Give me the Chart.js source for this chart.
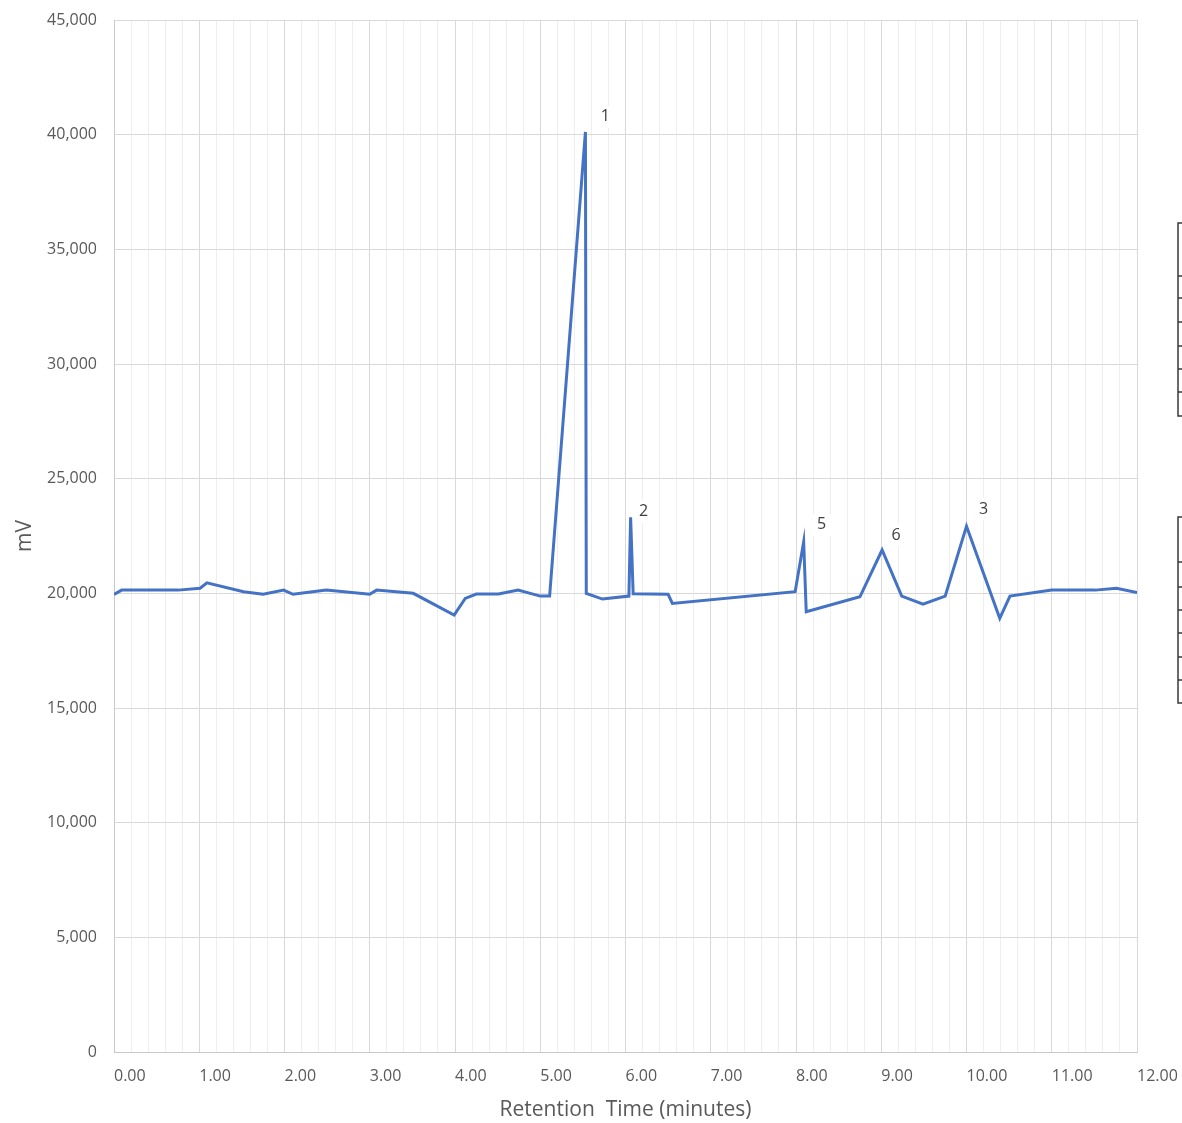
<!DOCTYPE html>
<html>
<head>
<meta charset="utf-8">
<script src="https://cdn.jsdelivr.net/npm/chart.js@4.4.1/dist/chart.umd.min.js"></script>
<style>
  html, body { margin: 0; padding: 0; background: #fff; }
  #wrap { width: 1182px; height: 1123px; position: relative; }
</style>
</head>
<body>
<div id="wrap"><canvas id="chromChart"></canvas></div>
<script>
// retention time (minutes) and detector signal (mV)
const retentionTime = [0, 0.09, 0.75, 1.01, 1.09, 1.52, 1.75, 1.99, 2.10, 2.49, 3.00, 3.08, 3.51, 3.99,
  4.12, 4.25, 4.51, 4.74, 5.00, 5.11, 5.53, 5.54, 5.73, 6.04, 6.06, 6.09, 6.50, 6.55, 7.99, 8.09,
  8.12, 8.75, 9.01, 9.24, 9.49, 9.75, 10.00, 10.39, 10.51, 11.00, 11.51, 11.76, 12.00];
const signal = [19950, 20140, 20140, 20220, 20460, 20070, 19960, 20140, 19960, 20140, 19960, 20140, 20000, 19050,
  19780, 19970, 19970, 20140, 19880, 19880, 40120, 20000, 19750, 19880, 23320, 19980, 19960, 19560, 20070, 22250,
  19200, 19850, 21890, 19880, 19530, 19880, 22930, 18910, 19880, 20140, 20140, 20220, 20030];

// numbered peaks
const peakNames = ['1', '2', '5', '6', '3'];
const peakTimes = [5.53, 6.06, 8.09, 9.01, 10.00];

const xMin = 0, xMax = 12, xMinorStep = 0.2;
const yMin = 0, yMax = 45000, yStep = 5000;

const fontFamily = "'Open Sans', 'Noto Sans', sans-serif";
const tickFont = { family: fontFamily, size: 16 };
const titleFont = { family: fontFamily, size: 21 };
const tickColor = '#595959';

const peakLabelPlugin = {
  id: 'peakLabels',
  afterDatasetsDraw(chart, args, opts) {
    const ctx = chart.ctx;
    const meta = chart.getDatasetMeta(0);
    ctx.save();
    ctx.font = '16px ' + fontFamily;
    ctx.textAlign = 'center';
    ctx.textBaseline = 'middle';
    peakNames.forEach(function (name, i) {
      const idx = retentionTime.indexOf(peakTimes[i]);
      if (idx < 0) return;
      const pt = meta.data[idx];
      const off = opts.offsets[i];
      const x = pt.x + off[0], y = pt.y + off[1];
      ctx.fillStyle = '#ffffff';
      ctx.fillRect(x - 10, y - 11, 20, 22);
      ctx.fillStyle = '#404040';
      ctx.fillText(name, x, y);
    });
    ctx.restore();
  }
};

// the two cut-off boxes at the right edge of the picture
const edgeBoxPlugin = {
  id: 'edgeBoxes',
  afterDraw(chart) {
    const ctx = chart.ctx;
    const x0 = chart.width - 4;
    const boxes = [[223, 276, 298, 322, 346, 369, 392, 416], [517, 562, 587, 610, 633, 657, 680, 703]];
    ctx.save();
    ctx.strokeStyle = '#3a3a3a';
    ctx.lineWidth = 1.5;
    boxes.forEach(function (b) {
      ctx.beginPath();
      ctx.moveTo(chart.width, b[0]);
      ctx.lineTo(x0, b[0]);
      ctx.lineTo(x0, b[b.length - 1]);
      ctx.lineTo(chart.width, b[b.length - 1]);
      for (let k = 1; k < b.length - 1; k++) {
        ctx.moveTo(x0, b[k]);
        ctx.lineTo(chart.width, b[k]);
      }
      ctx.stroke();
    });
    ctx.restore();
  }
};

function isMajor(v) {
  return Math.abs(v - Math.round(v)) < 1e-6;
}

document.addEventListener('DOMContentLoaded', function () {
  const canvas = document.getElementById('chromChart');

  new Chart(canvas.getContext('2d'), {
    type: 'line',
    data: {
      datasets: [{
        label: 'Signal',
        data: retentionTime.map((t, i) => ({ x: t, y: signal[i] })),
        borderColor: '#4472C4',
        borderWidth: 3,
        pointRadius: 0,
        tension: 0,
        fill: false
      }]
    },
    options: {
      responsive: true,
      maintainAspectRatio: false,
      animation: false,
      layout: { padding: { top: 20, right: 0, bottom: 0, left: 0 } },
      plugins: {
        legend: { display: false },
        tooltip: { enabled: false },
        peakLabels: { offsets: [[20, -15], [13, -6], [18, -17], [14, -15], [17, -17]] }
      },
      scales: {
        x: {
          type: 'linear',
          min: xMin,
          max: xMax,
          afterFit: function (scale) {
            scale.height = 71;
            scale.paddingLeft = 0;
            scale.paddingRight = 45;
          },
          border: { color: '#c9c9c9', width: 1 },
          grid: {
            drawTicks: false,
            color: ctx => isMajor(ctx.tick.value) ? '#d9d9d9' : '#efefef',
            lineWidth: 1
          },
          ticks: {
            stepSize: xMinorStep,
            autoSkip: false,
            maxRotation: 0,
            align: 'start',
            padding: 15,
            color: tickColor,
            font: tickFont,
            callback: v => isMajor(v) ? Number(v).toFixed(2) : ''
          },
          title: {
            display: true,
            text: 'Retention  Time (minutes)',
            color: tickColor,
            font: titleFont,
            padding: { top: 0, bottom: 0 }
          }
        },
        y: {
          min: yMin,
          max: yMax,
          afterFit: function (scale) {
            scale.width = 114;
            scale.paddingTop = 0;
            scale.paddingBottom = 0;
          },
          border: { color: '#c9c9c9', width: 1 },
          grid: { drawTicks: false, color: '#d9d9d9', lineWidth: 1 },
          ticks: {
            stepSize: yStep,
            padding: 17,
            color: tickColor,
            font: tickFont,
            callback: v => Number(v).toLocaleString('en-US')
          },
          title: {
            display: true,
            text: 'mV',
            color: tickColor,
            font: titleFont,
            padding: { top: 12, bottom: 0 }
          }
        }
      }
    },
    plugins: [peakLabelPlugin, edgeBoxPlugin]
  });
});
</script>
</body>
</html>
